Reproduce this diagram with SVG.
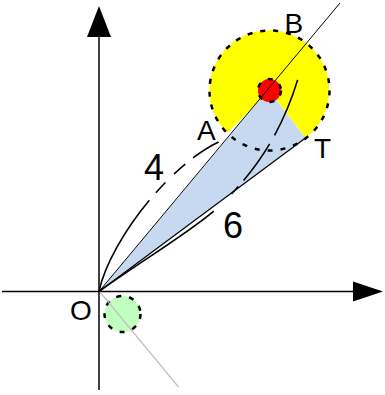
<svg xmlns="http://www.w3.org/2000/svg" width="385" height="395" viewBox="0 0 385 395">
<style>
.lbl{font-family:"Liberation Sans",Arial,sans-serif;font-size:28px;fill:#000}
.num{font-family:"Liberation Sans",Arial,sans-serif;font-size:36px;fill:#000}
.ax{stroke:#000;stroke-width:1.5;fill:none}
.dc{stroke:#000;stroke-width:2.5;stroke-dasharray:5 8}
.arc{stroke:#000;stroke-width:1.6;fill:none}
</style>
<rect width="385" height="395" fill="#fff"/>
<g id="axes">
<line class="ax" x1="99" y1="390" x2="99" y2="36"/>
<polygon points="99,6 87,37 111,37" fill="#000"/>
<line class="ax" x1="2" y1="291.5" x2="354" y2="291.5"/>
<polygon points="383,291.5 353,281.5 353,301.5" fill="#000"/>
</g>
<g id="yellow-sector">
<path d="M269.5,90.5 L305.5,138 A60,60 0 1 0 227.1,132.9 Z" fill="#ffff00"/>
</g>
<g id="blue-wedge">
<polygon points="99,291.5 268.5,90 305.5,138" fill="#c6d9f1"/>
</g>
<g id="circle-big">
<circle cx="269.5" cy="90.5" r="60" fill="none" class="dc"/>
</g>
<g id="circle-red">
<circle cx="269.5" cy="90.5" r="11.5" fill="#ff0000" class="dc" stroke-dasharray="5 4"/>
</g>
<g id="circle-green">
<circle cx="122.5" cy="314" r="18" fill="#c0ffc0" class="dc" stroke-dasharray="5 5"/>
</g>
<g id="connectors">
<line x1="99" y1="291.5" x2="340" y2="3" stroke="#000" stroke-width="1"/>
<line x1="99" y1="291.5" x2="305.5" y2="138" stroke="#000" stroke-width="1.2"/>
<line x1="100" y1="292" x2="178.5" y2="387" stroke="#c0c0c0" stroke-width="1.2"/>
<path class="arc" d="M99,291.5 C110,240 175,155 232,136.5" stroke-dasharray="105 10 14 12 15 10 30"/>
<path class="arc" d="M99,291.5 C140,262 190,232 215,210 C250,178 290,130 306.6,43.4" stroke-dasharray="140 25 10 8 45 10 60"/>
</g>
<g id="labels">
<text class="lbl" x="197" y="140">A</text>
<text class="lbl" x="284.5" y="33">B</text>
<text class="lbl" x="314" y="158">T</text>
<text class="lbl" x="70" y="320">O</text>
<text class="num" x="144" y="180">4</text>
<text class="num" x="223" y="238">6</text>
</g>
</svg>
